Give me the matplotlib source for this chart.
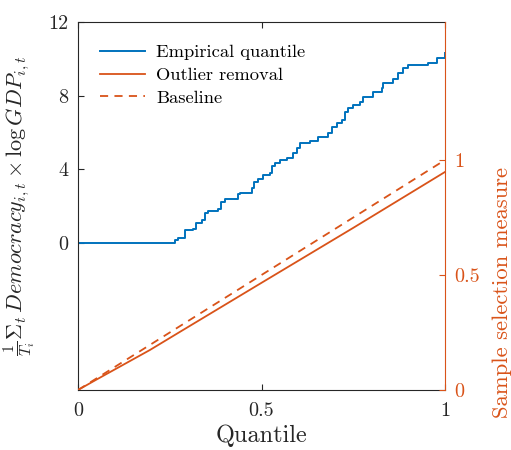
import matplotlib
matplotlib.use('Agg')
import matplotlib.pyplot as plt
import numpy as np

plt.rcParams['font.family'] = 'serif'
plt.rcParams['font.serif'] = ['cmr10']
plt.rcParams['mathtext.fontset'] = 'cm'
plt.rcParams['axes.unicode_minus'] = False
plt.rcParams['axes.formatter.use_mathtext'] = True

blue = (0.0, 0.447, 0.741)
orange = (0.85, 0.325, 0.098)
grey = (0.15, 0.15, 0.15)

# empirical quantile of the democracy x log GDP average (step points)
q_emp = [0.0, 0.262, 0.264, 0.272, 0.292, 0.313, 0.322, 0.338, 0.346, 0.354,
         0.381, 0.390, 0.401, 0.436, 0.441, 0.474, 0.480, 0.490, 0.504, 0.523,
         0.529, 0.537, 0.550, 0.569, 0.586, 0.597, 0.605, 0.632, 0.654, 0.681,
         0.692, 0.706, 0.719, 0.728, 0.736, 0.749, 0.768, 0.777, 0.804, 0.828,
         0.831, 0.858, 0.872, 0.886, 0.899, 0.954, 0.978, 1.0]
v_emp = [0.0, 0.0, 0.15, 0.27, 0.71, 0.76, 1.09, 1.25, 1.63, 1.74,
         1.85, 2.23, 2.39, 2.66, 2.72, 2.99, 3.32, 3.48, 3.70, 3.80,
         4.18, 4.35, 4.51, 4.62, 4.89, 5.16, 5.43, 5.54, 5.76, 5.98,
         6.30, 6.52, 6.68, 7.12, 7.34, 7.50, 7.66, 7.93, 8.21, 8.42,
         8.70, 8.91, 9.24, 9.51, 9.67, 9.78, 10.05, 10.33]

# sample selection measures
q_sel = [0.0, 0.05, 0.196, 0.278, 0.5, 0.75, 1.0]
outlier = [0.0, 0.045, 0.174, 0.253, 0.466, 0.705, 0.948]
baseline = [0.0, 0.05, 0.196, 0.278, 0.5, 0.75, 1.0]

fig = plt.figure(figsize=(5.11, 4.5), dpi=100)
ax = fig.add_axes([78 / 511, 60 / 450, 367 / 511, 368 / 450])
ax2 = ax.twinx()

l1, = ax.plot(q_emp, v_emp, color=blue, lw=1.4, drawstyle='steps-post',
              label='Empirical quantile')
l2, = ax2.plot(q_sel, outlier, color=orange, lw=1.3, label='Outlier removal')
l3, = ax2.plot(q_sel, baseline, color=orange, lw=1.3, ls=(0, (4.5, 3.5)),
               label='Baseline')

ax.set_xlim(0, 1)
ax.set_ylim(-8, 12)
ax2.set_ylim(0, 1.6)

ax.set_xticks([0, 0.5, 1])
ax.set_xticklabels(['0', '0.5', '1'])
ax.set_yticks([0, 4, 8, 12])
ax.set_yticklabels(['0', '4', '8', '12'])
ax2.set_yticks([0, 0.5, 1])
ax2.set_yticklabels(['0', '0.5', '1'])

ax.tick_params(axis='both', direction='in', length=4, width=0.8, colors=grey,
               labelsize=14.5, top=True, pad=7)
ax.tick_params(axis='x', pad=9)
ax2.tick_params(axis='y', direction='in', length=4, width=0.8, colors=orange,
                labelsize=14.5, pad=7)

for s in ['left', 'bottom', 'top']:
    ax.spines[s].set_color(grey)
    ax.spines[s].set_linewidth(0.8)
for s in ['left', 'bottom', 'top']:
    ax2.spines[s].set_visible(False)
ax.spines['right'].set_visible(False)
ax2.spines['right'].set_color(orange)
ax2.spines['right'].set_linewidth(0.8)

ax.set_xlabel('Quantile', fontsize=17.5, color=grey, labelpad=3)
ax.set_ylabel(r'$\frac{1}{T_i}\Sigma_t\, Democracy_{i,t} \times \log GDP_{i,t}$',
              fontsize=16, color=grey, labelpad=8)
ax2.set_ylabel('Sample selection measure', fontsize=16.3, color=orange)
ax2.yaxis.set_label_coords(1.128, 0.266)

ax2.legend(handles=[l1, l2, l3], loc='upper left', frameon=False, fontsize=13.3,
           handlelength=2.45, handletextpad=0.6, labelspacing=0.38,
           borderaxespad=0.0, bbox_to_anchor=(0.04, 0.96))

fig.savefig('out.png', dpi=100)
